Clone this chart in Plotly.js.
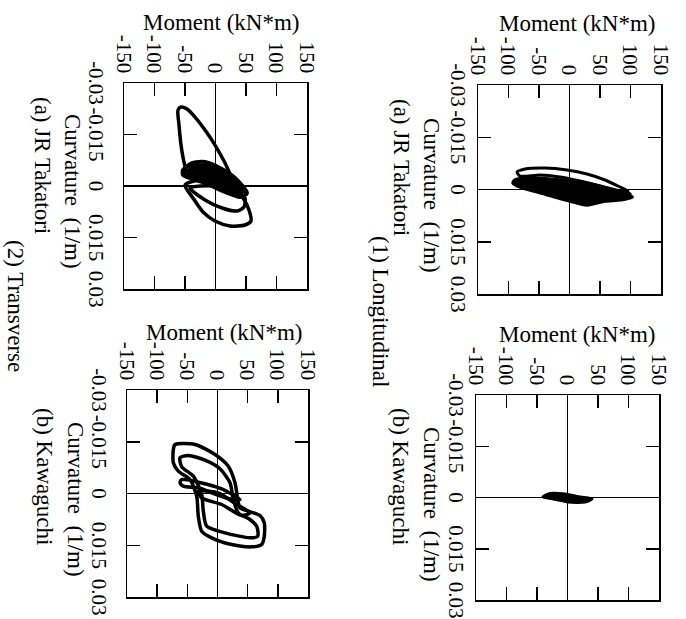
<!DOCTYPE html>
<html>
<head>
<meta charset="utf-8">
<script src="https://cdn.plot.ly/plotly-3.0.1.min.js"></script>
<style>
html,body{margin:0;padding:0;overflow:hidden;background:#fff;width:686px;height:619px;}
#plot{position:absolute;left:0;top:0;width:619px;height:686px;transform-origin:0 0;transform:translate(686px,0) rotate(90deg);}
</style>
</head>
<body>
<div id="plot"></div>
<script>
// ---- axis ticks ----
const curvTicks = [-0.03, -0.015, 0, 0.015, 0.03];
const curvTickText = ["-0.03", "-0.015", "0", "0.015", "0.03"];
const momentTicks = [-150, -100, -50, 0, 50, 100, 150];
const momentTickText = ["-150", "-100", "-50", "0", "50", "100", "150"];

// ---- (1) Longitudinal, (a) JR Takatori ----
const lonTakA1Curv = [-0.00502,-0.00588,-0.00617,-0.00560,-0.00445,-0.00273,-0.00100,0.00043,0.00072,-0.00100,-0.00244,-0.00359,-0.00416,-0.00387,-0.00502];
const lonTakA1Mom  = [-86.0,-72.9,-40.2,-4.1,28.7,58.2,79.5,95.9,82.8,50.0,17.2,-15.6,-48.4,-81.1,-86.0];
const lonTakA2Curv = [-0.00273,-0.00330,-0.00273,-0.00158,0.00014,0.00129,0.00273,0.00330,0.00445,0.00330,0.00129,-0.00072,-0.00187,-0.00273];
const lonTakA2Mom  = [-89.3,-64.7,-15.6,33.6,74.6,99.2,91.0,58.2,28.7,0.8,-40.2,-81.1,-92.6,-89.3];
const lonTakA3Curv = [-0.00158,-0.00215,-0.00129,0.00014,0.00158,0.00215,0.00273,0.00244,0.00158,0.00014,-0.00072,-0.00158];
const lonTakA3Mom  = [-81.1,-40.2,9.0,50.0,82.8,102.4,82.8,41.8,0.8,-40.2,-77.9,-81.1];
const lonTakA4Curv = [-0.00187,-0.00215,-0.00072,0.00100,0.00187,0.00100,-0.00043,-0.00100,-0.00187];
const lonTakA4Mom  = [-72.9,-23.8,25.4,66.4,50.0,9.0,-32.0,-72.9,-72.9];

// ---- (1) Longitudinal, (b) Kawaguchi ----
const lonKawB1Curv = [-0.00015,-0.00117,-0.00103,-0.00015,0.00044,0.00132,0.00132,0.00044,-0.00015];
const lonKawB1Mom  = [-40.2,-28.7,-4.1,20.5,40.2,28.7,0.8,-20.5,-40.2];
const lonKawB2Curv = [-0.0008,-0.0005,0.0004,0.0009,0.0001,-0.0008];
const lonKawB2Mom  = [-30,0,30,0,-30,-30];

// ---- (2) Transverse, (a) JR Takatori ----
const traTakC1Curv = [0.00116,-0.00233,-0.00669,-0.01193,-0.01630,-0.02008,-0.02241,-0.02299,-0.02212,-0.01775,-0.01193,-0.00698,-0.00407,-0.00233,-0.00087,0.00116];
const traTakC1Mom  = [36.9,27.0,15.6,-0.8,-17.2,-33.6,-46.7,-56.5,-61.5,-59.8,-56.5,-51.6,-46.7,-33.6,-0.8,36.9];
const traTakC2Curv = [-0.00029,0.00349,0.00757,0.01019,0.01164,0.01135,0.01019,0.00698,0.00349,0.00116,-0.00029,-0.00175,-0.00029];
const traTakC2Mom  = [-50.0,-36.9,-20.5,-0.8,23.8,48.3,58.2,54.9,45.1,32.0,7.4,-25.4,-50.0];
const traTakC3Curv = [0.00058,0.00407,0.00640,0.00728,0.00611,0.00349,0.00175,0,0.00058];
const traTakC3Mom  = [-41.8,-17.2,10.7,35.2,46.7,48.3,32.0,-0.8,-41.8];
const traTakC4Curv = [-0.00466,-0.00669,-0.00698,-0.00524,-0.00233,0.00204,0.00320,0.00175,-0.00087,-0.00233,-0.00320,-0.00466];
const traTakC4Mom  = [-53.3,-38.5,-17.2,7.4,32.0,51.6,40.2,15.6,-17.2,-41.8,-53.3,-53.3];
const traTakC5Curv = [-0.00407,-0.00524,-0.00407,-0.00175,0.00116,0.00204,0.00058,-0.00175,-0.00290,-0.00407];
const traTakC5Mom  = [-50.0,-25.4,-0.8,23.8,48.3,36.9,7.4,-25.4,-50.0,-50.0];
const traTakC6Curv = [-0.00553,-0.00582,-0.00320,0.00058,0.00116,-0.00116,-0.00349,-0.00553];
const traTakC6Mom  = [-41.8,-12.3,15.6,43.4,23.8,-5.7,-33.6,-41.8];

// ---- (2) Transverse, (b) Kawaguchi ----
const traKawD1Curv = [-0.01421,-0.01421,-0.01131,-0.00792,-0.00310,0.00174,0.00415,0.00513,0.00638,0.00850,0.01238,0.01479,0.01547,0.01479,0.01285,0.01093,0.00658,0.00078,-0.00406,-0.00647,-0.00890,-0.01276,-0.01421];
const traKawD1Mom  = [-70.4,-37.3,-4.1,17.9,29.0,33.5,37.3,51.0,70.4,77.5,77.5,73.2,56.7,23.5,-9.6,-26.2,-31.8,-34.5,-45.6,-65.0,-73.2,-73.2,-70.4];
const traKawD2Curv = [-0.01035,-0.01102,-0.00966,-0.00716,-0.00310,0.00174,0.00560,0.00754,0.00948,0.01238,0.01285,0.01140,0.00948,0.00513,0.00029,-0.00502,-0.00774,-0.01035];
const traKawD2Mom  = [-62.1,-48.4,-20.7,4.1,20.7,26.2,34.5,53.9,65.0,66.6,53.9,12.4,-17.9,-23.5,-26.2,-40.1,-59.3,-62.1];
const traKawD3Curv = [-0.00406,-0.00328,-0.00136,0.00174,0.00174,-0.00020,-0.00165,-0.00212,-0.00310,-0.00406];
const traKawD3Mom  = [-59.3,-31.8,7.0,37.3,23.5,-9.6,-31.8,-56.7,-62.1,-59.3];
const traKawD4Curv = [-0.00067,-0.00020,0.00319,0.00560,0.00638,0.00319,0.00125,-0.00067];
const traKawD4Mom  = [-31.8,1.3,31.8,53.9,40.1,7.0,-26.2,-31.8];

const W = 619, H = 686;
const FONT = "Liberation Serif, Times New Roman, serif";

function loop(c, m, xa, ya, w, filled) {
  const t = {x: c, y: m, xaxis: xa, yaxis: ya, mode: "lines", type: "scatter",
          line: {color: "#000", width: w || 3.5, shape: "spline", smoothing: 0.7},
          hoverinfo: "skip", showlegend: false};
  if (filled) { t.fill = "toself"; t.fillcolor = "#000"; }
  return t;
}

const data = [
  loop(lonTakA1Curv, lonTakA1Mom, "x", "y", 3),
  loop(lonTakA2Curv, lonTakA2Mom, "x", "y", 3.5, true),
  loop(lonTakA3Curv, lonTakA3Mom, "x", "y", 4, true),
  loop(lonTakA4Curv, lonTakA4Mom, "x", "y", 4, true),
  loop(lonKawB1Curv, lonKawB1Mom, "x2", "y2", 3, true),
  loop(lonKawB2Curv, lonKawB2Mom, "x2", "y2", 3, true),
  loop(traTakC1Curv, traTakC1Mom, "x3", "y3", 3.5),
  loop(traTakC2Curv, traTakC2Mom, "x3", "y3", 3.5),
  loop(traTakC3Curv, traTakC3Mom, "x3", "y3", 3.5),
  loop(traTakC4Curv, traTakC4Mom, "x3", "y3", 4),
  loop(traTakC5Curv, traTakC5Mom, "x3", "y3", 4, true),
  loop(traTakC6Curv, traTakC6Mom, "x3", "y3", 4, true),
  loop(traKawD1Curv, traKawD1Mom, "x4", "y4", 3.5),
  loop(traKawD2Curv, traKawD2Mom, "x4", "y4", 3.5),
  loop(traKawD3Curv, traKawD3Mom, "x4", "y4", 3.5),
  loop(traKawD4Curv, traKawD4Mom, "x4", "y4", 3.5)
];

function px2dom(a, b, total) { return [a / total, b / total]; }
function py2dom(top, bottom) { return [1 - bottom / H, 1 - top / H]; }

function xAxis(dom, anchor, standoff) {
  return {domain: dom, anchor: anchor, range: [-0.03, 0.03], tickvals: curvTicks, ticktext: curvTickText,
          ticks: "inside", ticklen: 13, tickwidth: 1.5, tickcolor: "#000", mirror: "ticks",
          showline: true, linecolor: "#000", linewidth: 1.5, showgrid: false,
          zeroline: true, zerolinecolor: "#000", zerolinewidth: 1.3,
          tickfont: {family: FONT, size: 21, color: "#000"}, ticklabelstandoff: standoff, fixedrange: true};
}
function yAxis(dom, anchor) {
  return {domain: dom, anchor: anchor, range: [-150, 150], tickvals: momentTicks, ticktext: momentTickText,
          ticks: "inside", ticklen: 13, tickwidth: 1.5, tickcolor: "#000", mirror: "ticks",
          showline: true, linecolor: "#000", linewidth: 1.5, showgrid: false,
          zeroline: true, zerolinecolor: "#000", zerolinewidth: 1.3,
          tickfont: {family: FONT, size: 21, color: "#000"}, ticklabelstandoff: 4, fixedrange: true};
}

function ann(text, ox, oy, angle, size) {
  return {text: text, x: ox / W, y: 1 - oy / H, xref: "paper", yref: "paper",
          xanchor: "center", yanchor: "middle", showarrow: false, textangle: angle || 0,
          font: {family: FONT, size: size || 23, color: "#000"}};
}

const layout = {
  width: W, height: H, margin: {l: 0, r: 0, t: 0, b: 0},
  paper_bgcolor: "#fff", plot_bgcolor: "#fff", showlegend: false,
  xaxis:  xAxis(px2dom(85, 294, W), "y", 0),
  yaxis:  yAxis(py2dom(25, 208), "x"),
  xaxis2: xAxis(px2dom(395, 600, W), "y2", 0),
  yaxis2: yAxis(py2dom(27, 210), "x2"),
  xaxis3: xAxis(px2dom(83, 289, W), "y3", 8),
  yaxis3: yAxis(py2dom(379, 562), "x3"),
  xaxis4: xAxis(px2dom(390, 597, W), "y4", 8),
  yaxis4: yAxis(py2dom(378, 559), "x4"),
  annotations: [
    ann("Moment (kN*m)", 23, 109, -90),
    ann("Moment (kN*m)", 334, 109, -90),
    ann("Moment (kN*m)", 22, 465, -90),
    ann("Moment (kN*m)", 332, 462, -90),
    ann("Curvature  (1/m)", 195, 254),
    ann("Curvature  (1/m)", 504, 254),
    ann("Curvature  (1/m)", 191, 613),
    ann("Curvature  (1/m)", 499, 610),
    ann("(a) JR Takatori", 167, 284),
    ann("(b) Kawaguchi", 476, 285),
    ann("(a) JR Takatori", 165, 643),
    ann("(b) Kawaguchi", 476, 641),
    ann("(1) Longitudinal", 311, 306),
    ann("(2) Transverse", 306, 670)
  ]
};

Plotly.newPlot("plot", data, layout, {displayModeBar: false, staticPlot: true});
</script>
</body>
</html>
